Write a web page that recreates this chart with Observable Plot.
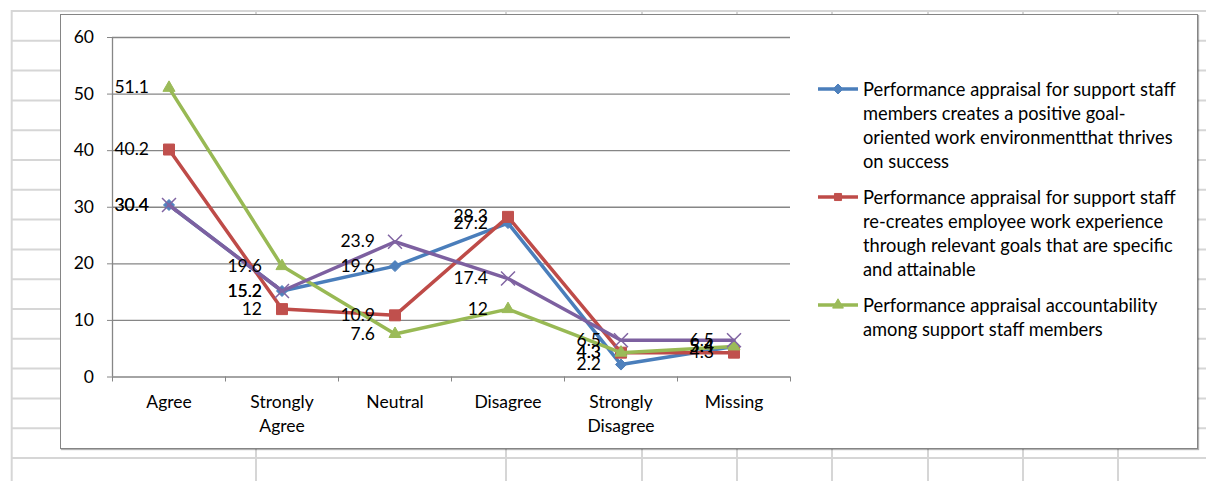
<!DOCTYPE html>
<html>
<head>
<meta charset="utf-8">
<script src="https://cdn.jsdelivr.net/npm/d3@7"></script>
<script src="https://cdn.jsdelivr.net/npm/@observablehq/plot@0.6"></script>
<style>
  html, body { margin: 0; padding: 0; background: #fff; }
  #page { position: relative; width: 1206px; height: 481px; overflow: hidden; font-family: Lato, "Open Sans", sans-serif; }
  #sheet, #chart { position: absolute; left: 0; top: 0; }
  #frame {
    position: absolute; left: 60px; top: 14px; width: 1138px; height: 435px; box-sizing: border-box;
    background: #fff; border: 1px solid #858585; box-shadow: 1px 1px 1px rgba(0,0,0,0.3);
  }
  #legend { position: absolute; left: 818px; top: 77px; font-size: 18.3px; line-height: 24px; color: #000; }
  .entry { display: flex; align-items: flex-start; margin-bottom: 12px; }
  .entry svg { flex: none; margin-top: 5px; margin-right: 5px; }
  .entry span { white-space: nowrap; }
</style>
</head>
<body>
<div id="page">
  <svg id="sheet" width="1206" height="481"></svg>
  <div id="frame"></div>
  <div id="chart"></div>
  <div id="legend"></div>
</div>
<script>
// Response categories along the x axis
const categories = ["Agree", "Strongly Agree", "Neutral", "Disagree", "Strongly Disagree", "Missing"];

// Percentages of respondents per statement
const goalEnvironment = [30.4, 15.2, 19.6, 27.2, 2.2, 5.4];
const relevantGoals   = [40.2, 12, 10.9, 28.3, 4.3, 4.3];
const accountability  = [51.1, 19.6, 7.6, 12, 4.3, 5.4];
const series4         = [30.4, 15.2, 23.9, 17.4, 6.5, 6.5];

// Legend labels, one array of wrapped lines per named statement
const legendLabels = [
  ["Performance appraisal for support staff", "members creates a positive goal-", "oriented work environmentthat thrives", "on success"],
  ["Performance appraisal for support staff", "re-creates employee work experience", "through relevant goals that are specific", "and attainable"],
  ["Performance appraisal accountability", "among support staff members"]
];
const yTicks = [0, 10, 20, 30, 40, 50, 60];

// Styling
const fontSize = 17.5;
const lineColors = ["#4A7EBB", "#BE4B48", "#98B954", "#7D60A0"];
const markColors = ["#4F81BD", "#C0504D", "#9BBB59", "#8064A2"];
const gridColor = "#868686";

// Square rotated 45°, used for the first series' markers
const diamond = {
  draw(ctx, size) {
    const r = Math.sqrt(size / 2);
    ctx.moveTo(0, -r); ctx.lineTo(r, 0); ctx.lineTo(0, r); ctx.lineTo(-r, 0); ctx.closePath();
  }
};
const markers = [
  {symbol: diamond, r: 4.4, filled: true},
  {symbol: "square", r: 6.2, filled: true},
  {symbol: "triangle", r: 4.5, filled: true},
  {symbol: "times", r: 6.4, filled: false}
];

const valueSets = [goalEnvironment, relevantGoals, accountability, series4];
const rows = valueSets.flatMap((vals, s) => vals.map((value, i) => ({s, i, value})));

// Spreadsheet cell grid behind the chart object
const sheet = d3.select("#sheet");
const colLines = [11.7, 256, 506, 642, 737, 832, 928, 1023, 1118];
const rowLines = d3.range(16).map(k => 11 + 29.8 * k);
sheet.selectAll("line.r").data(rowLines).join("line")
  .attr("x1", 11).attr("x2", 1206).attr("y1", d => d).attr("y2", d => d)
  .attr("stroke", "#d6d6d6").attr("stroke-width", 2);
sheet.selectAll("line.c").data(colLines).join("line")
  .attr("x1", d => d).attr("x2", d => d).attr("y1", 10).attr("y2", 481)
  .attr("stroke", "#d6d6d6").attr("stroke-width", 2);

const marks = [
  Plot.ruleY(yTicks.filter(v => v > 0), {stroke: gridColor, strokeWidth: 1.3}),
  Plot.ruleY([0], {stroke: gridColor, strokeWidth: 1.3}),
  Plot.ruleX([0], {stroke: gridColor, strokeWidth: 1.3}),
  Plot.axisY({ticks: yTicks, tickSize: 5, tickPadding: 13.5, stroke: gridColor, fill: "black", fontSize, label: null}),
  Plot.axisX({ticks: d3.range(7), tickSize: 5, tickFormat: () => "", stroke: gridColor, label: null}),
  Plot.axisX({
    ticks: categories.map((_, i) => i + 0.5), tickSize: 0, tickPadding: 14,
    tickFormat: v => categories[Math.round(v - 0.5)].replace(" ", "\n"),
    lineHeight: 24 / fontSize, fill: "black", fontSize, label: null
  })
];

valueSets.forEach((_, s) => {
  const data = rows.filter(d => d.s === s);
  const m = markers[s];
  marks.push(Plot.line(data, {x: d => d.i + 0.5, y: "value", stroke: lineColors[s], strokeWidth: 3.5}));
  marks.push(Plot.dot(data, {
    x: d => d.i + 0.5, y: "value", symbol: m.symbol, r: m.r,
    fill: m.filled ? markColors[s] : "none", stroke: markColors[s], strokeWidth: m.filled ? 1 : 1.5
  }));
});

// Data labels to the left of each point
marks.push(Plot.text(rows, {
  x: d => d.i + 0.5, y: "value", text: d => String(d.value),
  textAnchor: "end", dx: -20, fontSize, fill: "black"
}));

const chart = Plot.plot({
  width: 1206, height: 481,
  marginLeft: 112, marginRight: 416, marginTop: 37, marginBottom: 104.5,
  x: {type: "linear", domain: [0, 6]},
  y: {domain: [0, 60]},
  style: {background: "transparent", fontFamily: "Lato, 'Open Sans', sans-serif", fontSize: fontSize + "px", color: "black", overflow: "visible"},
  marks
});
document.getElementById("chart").appendChild(chart);

// Legend for the three named statements
const legend = d3.select("#legend");
legendLabels.forEach((lines, s) => {
  const entry = legend.append("div").attr("class", "entry");
  const svg = entry.append("svg").attr("width", 40).attr("height", 14);
  svg.append("line").attr("x1", 0).attr("x2", 40).attr("y1", 7).attr("y2", 7)
    .attr("stroke", lineColors[s]).attr("stroke-width", 3.5);
  const sym = markers[s].symbol;
  const type = typeof sym === "string" ? {square: d3.symbolSquare, triangle: d3.symbolTriangle}[sym] : sym;
  svg.append("path").attr("transform", "translate(20,7)")
    .attr("d", d3.symbol(type, Math.PI * 4 * 4)())
    .attr("fill", markColors[s]).attr("stroke", markColors[s]);
  const span = entry.append("span");
  lines.forEach((line, k) => {
    if (k) span.append("br");
    span.append(() => document.createTextNode(line));
  });
});
</script>
</body>
</html>
